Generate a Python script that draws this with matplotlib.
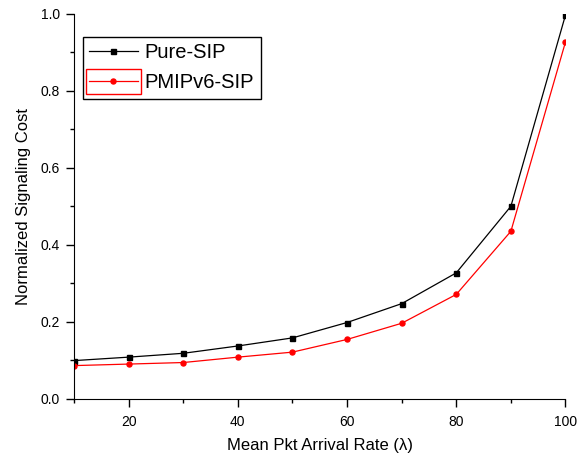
import matplotlib
matplotlib.use("Agg")
import matplotlib.pyplot as plt
from matplotlib.ticker import MultipleLocator
from matplotlib.patches import Rectangle

plt.rcParams['font.family'] = ['Liberation Sans', 'DejaVu Sans']

rate = [10, 20, 30, 40, 50, 60, 70, 80, 90, 100]
pure_sip = [0.099, 0.108, 0.118, 0.137, 0.158, 0.198, 0.247, 0.327, 0.50, 0.997]
pmipv6_sip = [0.086, 0.090, 0.094, 0.108, 0.121, 0.154, 0.196, 0.271, 0.435, 0.927]

fig = plt.figure(figsize=(5.86, 4.62), dpi=100)
ax = fig.add_axes([0.1263, 0.137, 0.8387, 0.833])

ax.plot(rate, pure_sip, color='black', lw=0.9, marker='s', ms=3.6, label='Pure-SIP')
ax.plot(rate, pmipv6_sip, color='red', lw=0.9, marker='o', ms=3.6, label='PMIPv6-SIP')

ax.set_xlim(10, 100)
ax.set_ylim(0, 1.0)
ax.xaxis.set_major_locator(MultipleLocator(20))
ax.xaxis.set_minor_locator(MultipleLocator(10))
ax.yaxis.set_major_locator(MultipleLocator(0.2))
ax.yaxis.set_minor_locator(MultipleLocator(0.1))
ax.yaxis.set_major_formatter(matplotlib.ticker.FormatStrFormatter('%.1f'))

for s in ['top', 'right']:
    ax.spines[s].set_visible(False)
ax.tick_params(which='major', direction='out', length=6, width=1, labelsize=10, colors='black', pad=4)
ax.tick_params(which='minor', direction='out', length=3, width=1)
ax.tick_params(axis='x', which='major', pad=6)

ax.set_xlabel('Mean Pkt Arrival Rate (λ)', fontsize=12, labelpad=6)
ax.set_ylabel('Normalized Signaling Cost', fontsize=12, labelpad=7)

leg = ax.legend(loc='upper left', bbox_to_anchor=(0.018, 0.94), fontsize=14.5,
                frameon=True, fancybox=False, edgecolor='black', framealpha=1,
                handlelength=2.4, borderpad=0.32, labelspacing=0.55, handletextpad=0.35,
                borderaxespad=0)
leg.get_frame().set_linewidth(1.0)

fig.canvas.draw()
renderer = fig.canvas.get_renderer()
hl = leg.get_lines()[1]
bb = hl.get_window_extent(renderer)
cy = (bb.y0 + bb.y1) / 2
x0, x1 = bb.x0 - 1, bb.x1 + 1
h = 25
rect = Rectangle((x0 / fig.bbox.width, (cy - h / 2) / fig.bbox.height),
                 (x1 - x0) / fig.bbox.width, h / fig.bbox.height,
                 transform=fig.transFigure, fill=False, edgecolor='red', lw=1.0, zorder=10)
fig.add_artist(rect)

fig.savefig('out.png', dpi=100)
